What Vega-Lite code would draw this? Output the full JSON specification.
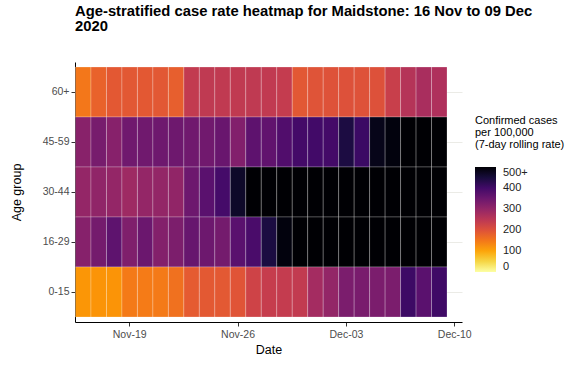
{
  "$schema": "https://vega.github.io/schema/vega-lite/v6.json",
  "autosize": {"type": "none"},
  "padding": {"left": 75, "top": 62, "right": 119, "bottom": 43},
  "width": 387,
  "height": 260,
  "background": "white",
  "config": {
    "font": "Liberation Sans",
    "view": {"stroke": null},
    "axis": {
      "domainColor": "#000000",
      "domainWidth": 1,
      "tickColor": "#333333",
      "tickSize": 4,
      "labelColor": "#4d4d4d",
      "labelFontSize": 10.5,
      "titleFontSize": 12.5,
      "titleFontWeight": "normal",
      "titleColor": "#000000"
    }
  },
  "title": {
    "text": ["Age-stratified case rate heatmap for Maidstone: 16 Nov to 09 Dec", "2020"],
    "anchor": "start",
    "frame": "group",
    "fontSize": 14.8,
    "fontWeight": "bold",
    "lineHeight": 15,
    "offset": 28,
    "color": "#000000"
  },
  "datasets": {
    "rates": [
      {"date": "2020-11-16", "age": "60+", "rate": 150},
      {"date": "2020-11-17", "age": "60+", "rate": 175},
      {"date": "2020-11-18", "age": "60+", "rate": 189},
      {"date": "2020-11-19", "age": "60+", "rate": 190},
      {"date": "2020-11-20", "age": "60+", "rate": 189},
      {"date": "2020-11-21", "age": "60+", "rate": 190},
      {"date": "2020-11-22", "age": "60+", "rate": 180},
      {"date": "2020-11-23", "age": "60+", "rate": 240},
      {"date": "2020-11-24", "age": "60+", "rate": 244},
      {"date": "2020-11-25", "age": "60+", "rate": 243},
      {"date": "2020-11-26", "age": "60+", "rate": 243},
      {"date": "2020-11-27", "age": "60+", "rate": 244},
      {"date": "2020-11-28", "age": "60+", "rate": 242},
      {"date": "2020-11-29", "age": "60+", "rate": 238},
      {"date": "2020-11-30", "age": "60+", "rate": 190},
      {"date": "2020-12-01", "age": "60+", "rate": 196},
      {"date": "2020-12-02", "age": "60+", "rate": 198},
      {"date": "2020-12-03", "age": "60+", "rate": 200},
      {"date": "2020-12-04", "age": "60+", "rate": 198},
      {"date": "2020-12-05", "age": "60+", "rate": 200},
      {"date": "2020-12-06", "age": "60+", "rate": 232},
      {"date": "2020-12-07", "age": "60+", "rate": 258},
      {"date": "2020-12-08", "age": "60+", "rate": 273},
      {"date": "2020-12-09", "age": "60+", "rate": 266},

      {"date": "2020-11-16", "age": "45-59", "rate": 314},
      {"date": "2020-11-17", "age": "45-59", "rate": 334},
      {"date": "2020-11-18", "age": "45-59", "rate": 316},
      {"date": "2020-11-19", "age": "45-59", "rate": 344},
      {"date": "2020-11-20", "age": "45-59", "rate": 344},
      {"date": "2020-11-21", "age": "45-59", "rate": 346},
      {"date": "2020-11-22", "age": "45-59", "rate": 346},
      {"date": "2020-11-23", "age": "45-59", "rate": 344},
      {"date": "2020-11-24", "age": "45-59", "rate": 342},
      {"date": "2020-11-25", "age": "45-59", "rate": 352},
      {"date": "2020-11-26", "age": "45-59", "rate": 322},
      {"date": "2020-11-27", "age": "45-59", "rate": 366},
      {"date": "2020-11-28", "age": "45-59", "rate": 362},
      {"date": "2020-11-29", "age": "45-59", "rate": 382},
      {"date": "2020-11-30", "age": "45-59", "rate": 398},
      {"date": "2020-12-01", "age": "45-59", "rate": 400},
      {"date": "2020-12-02", "age": "45-59", "rate": 398},
      {"date": "2020-12-03", "age": "45-59", "rate": 444},
      {"date": "2020-12-04", "age": "45-59", "rate": 408},
      {"date": "2020-12-05", "age": "45-59", "rate": 478},
      {"date": "2020-12-06", "age": "45-59", "rate": 490},
      {"date": "2020-12-07", "age": "45-59", "rate": 512},
      {"date": "2020-12-08", "age": "45-59", "rate": 530},
      {"date": "2020-12-09", "age": "45-59", "rate": 545},

      {"date": "2020-11-16", "age": "30-44", "rate": 299},
      {"date": "2020-11-17", "age": "30-44", "rate": 304},
      {"date": "2020-11-18", "age": "30-44", "rate": 299},
      {"date": "2020-11-19", "age": "30-44", "rate": 287},
      {"date": "2020-11-20", "age": "30-44", "rate": 299},
      {"date": "2020-11-21", "age": "30-44", "rate": 300},
      {"date": "2020-11-22", "age": "30-44", "rate": 302},
      {"date": "2020-11-23", "age": "30-44", "rate": 348},
      {"date": "2020-11-24", "age": "30-44", "rate": 370},
      {"date": "2020-11-25", "age": "30-44", "rate": 397},
      {"date": "2020-11-26", "age": "30-44", "rate": 464},
      {"date": "2020-11-27", "age": "30-44", "rate": 520},
      {"date": "2020-11-28", "age": "30-44", "rate": 545},
      {"date": "2020-11-29", "age": "30-44", "rate": 570},
      {"date": "2020-11-30", "age": "30-44", "rate": 590},
      {"date": "2020-12-01", "age": "30-44", "rate": 600},
      {"date": "2020-12-02", "age": "30-44", "rate": 610},
      {"date": "2020-12-03", "age": "30-44", "rate": 620},
      {"date": "2020-12-04", "age": "30-44", "rate": 615},
      {"date": "2020-12-05", "age": "30-44", "rate": 630},
      {"date": "2020-12-06", "age": "30-44", "rate": 640},
      {"date": "2020-12-07", "age": "30-44", "rate": 650},
      {"date": "2020-12-08", "age": "30-44", "rate": 660},
      {"date": "2020-12-09", "age": "30-44", "rate": 655},

      {"date": "2020-11-16", "age": "16-29", "rate": 317},
      {"date": "2020-11-17", "age": "16-29", "rate": 338},
      {"date": "2020-11-18", "age": "16-29", "rate": 365},
      {"date": "2020-11-19", "age": "16-29", "rate": 325},
      {"date": "2020-11-20", "age": "16-29", "rate": 350},
      {"date": "2020-11-21", "age": "16-29", "rate": 320},
      {"date": "2020-11-22", "age": "16-29", "rate": 328},
      {"date": "2020-11-23", "age": "16-29", "rate": 355},
      {"date": "2020-11-24", "age": "16-29", "rate": 348},
      {"date": "2020-11-25", "age": "16-29", "rate": 338},
      {"date": "2020-11-26", "age": "16-29", "rate": 370},
      {"date": "2020-11-27", "age": "16-29", "rate": 390},
      {"date": "2020-11-28", "age": "16-29", "rate": 445},
      {"date": "2020-11-29", "age": "16-29", "rate": 490},
      {"date": "2020-11-30", "age": "16-29", "rate": 530},
      {"date": "2020-12-01", "age": "16-29", "rate": 560},
      {"date": "2020-12-02", "age": "16-29", "rate": 580},
      {"date": "2020-12-03", "age": "16-29", "rate": 600},
      {"date": "2020-12-04", "age": "16-29", "rate": 610},
      {"date": "2020-12-05", "age": "16-29", "rate": 620},
      {"date": "2020-12-06", "age": "16-29", "rate": 615},
      {"date": "2020-12-07", "age": "16-29", "rate": 600},
      {"date": "2020-12-08", "age": "16-29", "rate": 590},
      {"date": "2020-12-09", "age": "16-29", "rate": 570},

      {"date": "2020-11-16", "age": "0-15", "rate": 116},
      {"date": "2020-11-17", "age": "0-15", "rate": 118},
      {"date": "2020-11-18", "age": "0-15", "rate": 118},
      {"date": "2020-11-19", "age": "0-15", "rate": 146},
      {"date": "2020-11-20", "age": "0-15", "rate": 145},
      {"date": "2020-11-21", "age": "0-15", "rate": 147},
      {"date": "2020-11-22", "age": "0-15", "rate": 157},
      {"date": "2020-11-23", "age": "0-15", "rate": 185},
      {"date": "2020-11-24", "age": "0-15", "rate": 188},
      {"date": "2020-11-25", "age": "0-15", "rate": 188},
      {"date": "2020-11-26", "age": "0-15", "rate": 195},
      {"date": "2020-11-27", "age": "0-15", "rate": 222},
      {"date": "2020-11-28", "age": "0-15", "rate": 235},
      {"date": "2020-11-29", "age": "0-15", "rate": 238},
      {"date": "2020-11-30", "age": "0-15", "rate": 240},
      {"date": "2020-12-01", "age": "0-15", "rate": 280},
      {"date": "2020-12-02", "age": "0-15", "rate": 300},
      {"date": "2020-12-03", "age": "0-15", "rate": 330},
      {"date": "2020-12-04", "age": "0-15", "rate": 332},
      {"date": "2020-12-05", "age": "0-15", "rate": 330},
      {"date": "2020-12-06", "age": "0-15", "rate": 330},
      {"date": "2020-12-07", "age": "0-15", "rate": 405},
      {"date": "2020-12-08", "age": "0-15", "rate": 370},
      {"date": "2020-12-09", "age": "0-15", "rate": 403}
    ]
  },
  "data": {"name": "rates"},
  "mark": {"type": "rect", "stroke": "#ffffff", "strokeWidth": 0.6, "strokeOpacity": 0.4},
  "encoding": {
    "x": {
      "field": "date",
      "timeUnit": "utcyearmonthdate",
      "type": "temporal",
      "title": "Date",
      "scale": {
        "type": "utc",
        "domain": [
          {"year": 2020, "month": "nov", "date": 16, "utc": true},
          {"year": 2020, "month": "dec", "date": 11, "utc": true}
        ],
        "nice": false
      },
      "axis": {
        "values": [
          {"year": 2020, "month": "nov", "date": 19, "hours": 12, "utc": true},
          {"year": 2020, "month": "nov", "date": 26, "hours": 12, "utc": true},
          {"year": 2020, "month": "dec", "date": 3, "hours": 12, "utc": true},
          {"year": 2020, "month": "dec", "date": 10, "hours": 12, "utc": true}
        ],
        "labelExpr": "utcFormat(datum.value, '%b-%d')",
        "grid": false,
        "labelPadding": 3,
        "titlePadding": 4,
        "labelFlush": false
      }
    },
    "y": {
      "field": "age",
      "type": "nominal",
      "title": "Age group",
      "sort": ["60+", "45-59", "30-44", "16-29", "0-15"],
      "scale": {"paddingInner": 0, "paddingOuter": 0.1},
      "axis": {
        "grid": true,
        "gridColor": "#ebebe6",
        "gridWidth": 1,
        "labelPadding": 2,
        "titlePadding": 19,
        "zindex": 0
      }
    },
    "color": {
      "field": "rate",
      "type": "quantitative",
      "scale": {"scheme": "inferno", "reverse": true, "domain": [0, 500], "clamp": true},
      "legend": {
        "title": ["Confirmed cases", "\u00a0per 100,000", "\u00a0(7-day rolling rate)"],
        "orient": "none",
        "legendX": 400,
        "legendY": 53,
        "titleFontSize": 11,
        "titleFontWeight": "normal",
        "titleColor": "#000000",
        "titleLineHeight": 12,
        "titlePadding": 17,
        "gradientLength": 105,
        "gradientThickness": 21,
        "gradientStrokeWidth": 0,
        "values": [0, 100, 200, 300, 400, 500],
        "labelExpr": "datum.value >= 500 ? '500+' : datum.label",
        "labelFontSize": 11,
        "labelColor": "#222222",
        "labelOffset": 7,
        "tickCount": 6
      }
    }
  }
}
